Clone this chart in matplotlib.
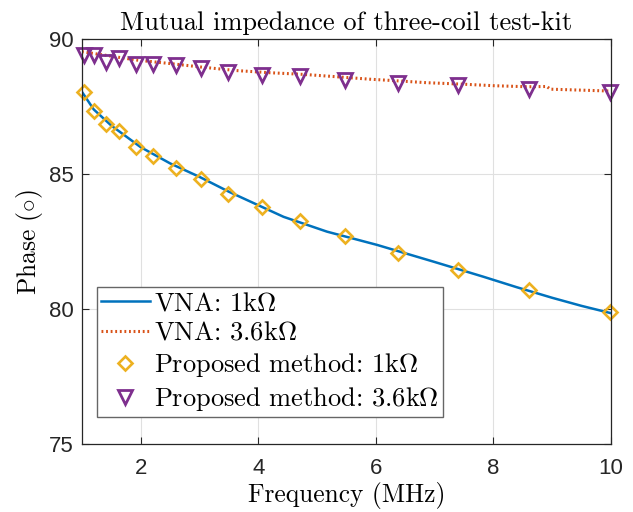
import matplotlib
matplotlib.use("Agg")
import matplotlib.pyplot as plt

plt.rcParams['mathtext.fontset'] = 'cm'

# VNA sweeps (MHz, degrees)
vna_freq_1k = [1.0, 1.2, 1.5, 2.0, 2.5, 3.0, 3.5, 4.0, 4.43, 5.17, 6.02, 6.98, 7.83, 8.4, 9.0, 9.5, 10.0]
vna_phase_1k = [88.05, 87.4, 86.8, 86.0, 85.4, 84.9, 84.35, 83.85, 83.42, 82.87, 82.38, 81.76, 81.2, 80.81, 80.42, 80.12, 79.85]

vna_freq_36k = [1.0, 1.36, 1.93, 2.5, 3.07, 3.63, 4.2, 4.76, 5.34, 5.9, 6.29, 6.87, 7.44, 8.0, 8.57, 8.91, 8.97, 9.42, 10.0]
vna_phase_36k = [89.54, 89.42, 89.23, 89.1, 88.96, 88.84, 88.76, 88.7, 88.61, 88.52, 88.47, 88.39, 88.34, 88.28, 88.24, 88.25, 88.15, 88.12, 88.08]

# proposed method points
meas_freq = [1.03, 1.21, 1.41, 1.635, 1.92, 2.21, 2.6, 3.03, 3.49, 4.06, 4.71, 5.48, 6.37, 7.4, 8.6, 9.99]
meas_phase_1k = [88.04, 87.34, 86.85, 86.6, 86.01, 85.68, 85.24, 84.83, 84.27, 83.77, 83.27, 82.71, 82.07, 81.44, 80.71, 79.9]
meas_phase_36k = [89.42, 89.42, 89.17, 89.32, 89.1, 89.1, 89.03, 88.93, 88.8, 88.68, 88.64, 88.49, 88.37, 88.31, 88.15, 88.03]

blue = (0, 0.447, 0.741)
orange = (0.85, 0.325, 0.098)
yellow = (0.929, 0.694, 0.125)
purple = (0.494, 0.184, 0.556)

serif = 'cmr10'
tick_font = 'Liberation Sans'

fig = plt.figure(figsize=(6.33, 5.12), dpi=100)
ax = fig.add_axes([0.1295, 0.1328, 0.8355, 0.7905])

ax.plot(vna_freq_1k, vna_phase_1k, color=blue, linewidth=1.8, label=r'VNA: 1k$\Omega$')
ax.plot(vna_freq_36k, vna_phase_36k, color=orange, linewidth=2.2, linestyle=(0, (0.6, 0.9)),
        label=r'VNA: 3.6k$\Omega$')
ax.plot(meas_freq, meas_phase_1k, linestyle='none', marker='D', markersize=7.5,
        markerfacecolor='none', markeredgecolor=yellow, markeredgewidth=1.9,
        label=r'Proposed method: 1k$\Omega$', clip_on=False)
ax.plot(meas_freq, meas_phase_36k, linestyle='none', marker='v', markersize=10,
        markerfacecolor='none', markeredgecolor=purple, markeredgewidth=2.0,
        label=r'Proposed method: 3.6k$\Omega$', clip_on=False)

ax.set_xlim(1, 10)
ax.set_ylim(75, 90)
ax.set_xticks([2, 4, 6, 8, 10])
ax.set_yticks([75, 80, 85, 90])
ax.grid(True, color=(0.88, 0.88, 0.88), linewidth=0.8)
ax.set_axisbelow(True)

ax.tick_params(direction='in', top=True, right=True, length=5, width=0.8,
               colors=(0.15, 0.15, 0.15), labelsize=16)
ax.tick_params(axis='x', pad=10)
ax.tick_params(axis='y', pad=6)
for lab in ax.get_xticklabels() + ax.get_yticklabels():
    lab.set_fontfamily(tick_font)
for sp in ax.spines.values():
    sp.set_color((0.15, 0.15, 0.15))
    sp.set_linewidth(0.9)

ax.set_title('Mutual impedance of three-coil test-kit', fontfamily=serif, fontsize=19, pad=7)
ax.set_xlabel('Frequency (MHz)', fontfamily=serif, fontsize=18.3, labelpad=2.5)
ax.set_ylabel(r'Phase ($\circ$)', fontfamily=serif, fontsize=18.3, labelpad=3)

leg = ax.legend(loc='upper left', bbox_to_anchor=(0.028, 0.387), prop={'family': serif, 'size': 19},
                fancybox=False, framealpha=1, edgecolor=(0.4, 0.4, 0.4),
                borderpad=0.15, labelspacing=0.23, handlelength=1.85, handletextpad=0.18,
                borderaxespad=0)
leg.get_frame().set_linewidth(1.0)

fig.savefig('out.png', dpi=100)
